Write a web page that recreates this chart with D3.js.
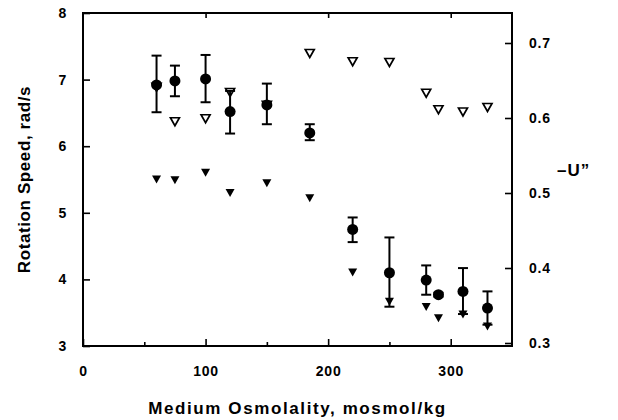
<!DOCTYPE html>
<html>
<head>
<meta charset="utf-8">
<script src="https://cdn.jsdelivr.net/npm/d3@7"></script>
<style>
  body { margin: 0; background: #fff; }
  svg text { font-family: "Liberation Sans", Arial, Helvetica, sans-serif; font-weight: bold; fill: #000; }
</style>
</head>
<body>
<div id="chart"></div>
<script>
// osmolality (mosmol/kg)
const osm = [60, 75, 100, 120, 150, 185, 220, 250, 280, 290, 310, 330];
// rotation speed, rad/s (filled circles, left axis) with error bar ends
const speed   = [6.92, 6.98, 7.01, 6.52, 6.62, 6.20, 4.75, 4.10, 3.99, 3.77, 3.82, 3.57];
const speedHi = [7.36, 7.21, 7.37, 6.83, 6.94, 6.33, 4.93, 4.63, 4.21, 3.80, 4.17, 3.82];
const speedLo = [6.51, 6.75, 6.66, 6.19, 6.33, 6.09, 4.56, 3.59, 3.77, 3.74, 3.48, 3.32];
// -U'' (right axis): open and filled triangles
const uOpen = [0.641, 0.595, 0.599, 0.634, 0.617, 0.686, 0.675, 0.674, 0.633, 0.611, 0.608, 0.614];
const uFill = [0.518, 0.517, 0.527, 0.500, 0.513, 0.493, 0.394, 0.355, 0.348, 0.333, 0.338, 0.322];

const xTicks = [0, 100, 200, 300];
const xMinor = [50, 150, 250];
const yLeftTicks = [3, 4, 5, 6, 7, 8];
const yRightTicks = [0.3, 0.4, 0.5, 0.6, 0.7];

const width = 618, height = 420;
const margin = { left: 83, right: 106, top: 13, bottom: 74 };

const svg = d3.select("#chart").append("svg")
  .attr("width", width)
  .attr("height", height);

const x = d3.scaleLinear().domain([0, 350]).range([margin.left, width - margin.right]);
const yL = d3.scaleLinear().domain([3, 8]).range([height - margin.bottom, margin.top]);
const yR = d3.scaleLinear().domain([0.296, 0.74]).range([height - margin.bottom, margin.top]);

const x0 = margin.left, x1 = width - margin.right;
const y0 = height - margin.bottom, y1 = margin.top;

// frame
svg.append("rect")
  .attr("x", x0).attr("y", y1)
  .attr("width", x1 - x0).attr("height", y0 - y1)
  .attr("fill", "none")
  .attr("stroke", "#000")
  .attr("stroke-width", 2);

function styleAxis(g) {
  g.select(".domain").remove();
  g.selectAll(".tick line").attr("stroke", "#000").attr("stroke-width", 1.6);
  g.selectAll(".tick text").style("font-size", "14px").style("letter-spacing", "0.8px");
}

// bottom axis, ticks inward
svg.append("g")
  .attr("transform", `translate(0,${y0})`)
  .call(d3.axisBottom(x).tickValues(xTicks).tickSize(-7).tickPadding(20).tickFormat(d3.format("d")))
  .call(styleAxis);

svg.append("g")
  .attr("transform", `translate(0,${y0})`)
  .call(d3.axisBottom(x).tickValues(xMinor).tickSize(-4).tickFormat(""))
  .call(styleAxis);

// top axis ticks
svg.append("g")
  .attr("transform", `translate(0,${y1})`)
  .call(d3.axisTop(x).tickValues(xTicks.slice(1)).tickSize(-5).tickFormat(""))
  .call(styleAxis);

// left axis
svg.append("g")
  .attr("transform", `translate(${x0},0)`)
  .call(d3.axisLeft(yL).tickValues(yLeftTicks).tickSize(-7).tickPadding(16).tickFormat(d3.format("d")))
  .call(styleAxis);

// right axis
svg.append("g")
  .attr("transform", `translate(${x1},0)`)
  .call(d3.axisRight(yR).tickValues(yRightTicks).tickSize(-7).tickPadding(17).tickFormat(d3.format(".1f")))
  .call(styleAxis);

// axis titles
svg.append("text")
  .attr("transform", `translate(30,${(y0 + y1) / 2}) rotate(-90)`)
  .attr("text-anchor", "middle")
  .style("font-size", "17px")
  .style("letter-spacing", "0.6px")
  .text("Rotation  Speed,  rad/s");

svg.append("text")
  .attr("x", (x0 + x1) / 2)
  .attr("y", 414)
  .attr("text-anchor", "middle")
  .style("font-size", "17px")
  .style("letter-spacing", "1.6px")
  .text("Medium  Osmolality,  mosmol/kg");

svg.append("text")
  .attr("x", 557)
  .attr("y", 176)
  .style("font-size", "17px")
  .style("letter-spacing", "1px")
  .text("\u2013U\u201D");

// triangles (pointing down)
const tri = (cx, cy, w, h) => `M${cx - w / 2},${cy - h / 2}L${cx + w / 2},${cy - h / 2}L${cx},${cy + h / 2}Z`;

svg.append("g")
  .selectAll("path")
  .data(osm)
  .join("path")
  .attr("d", (d, i) => tri(x(d), yR(uOpen[i]), 9, 8))
  .attr("fill", "#fff")
  .attr("stroke", "#000")
  .attr("stroke-width", 1.7)
  .attr("stroke-linejoin", "miter");

svg.append("g")
  .selectAll("path")
  .data(osm)
  .join("path")
  .attr("d", (d, i) => tri(x(d), yR(uFill[i]), 9, 8))
  .attr("fill", "#000");

// error bars
const eb = svg.append("g").attr("stroke", "#000").attr("stroke-width", 2);
osm.forEach((d, i) => {
  const cx = x(d);
  eb.append("line").attr("x1", cx).attr("x2", cx).attr("y1", yL(speedHi[i])).attr("y2", yL(speedLo[i]));
  eb.append("line").attr("x1", cx - 5).attr("x2", cx + 5).attr("y1", yL(speedHi[i])).attr("y2", yL(speedHi[i]));
  eb.append("line").attr("x1", cx - 5).attr("x2", cx + 5).attr("y1", yL(speedLo[i])).attr("y2", yL(speedLo[i]));
});

// circles
svg.append("g")
  .selectAll("circle")
  .data(osm)
  .join("circle")
  .attr("cx", d => x(d))
  .attr("cy", (d, i) => yL(speed[i]))
  .attr("r", 5.5)
  .attr("fill", "#000");
</script>
</body>
</html>
